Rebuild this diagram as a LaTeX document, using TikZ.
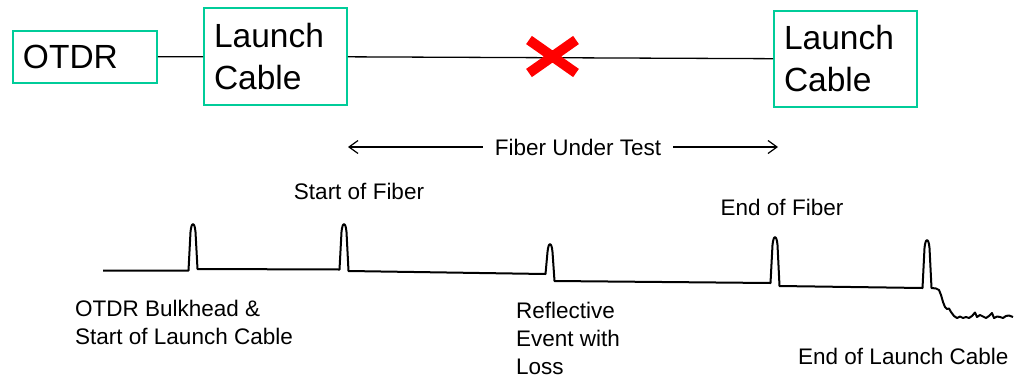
\documentclass[tikz,border=0pt]{standalone}
\usepackage{fontspec}
\setmainfont{Liberation Sans}
\usetikzlibrary{arrows.meta,shapes.misc}
\definecolor{boxgreen}{RGB}{0,204,153}
\def\spike(#1,#2,#3,#4){-- (#1-4.5,#2) -- (#1-2.5,#3+9) .. controls (#1-1.5,#3-1.5) and (#1+1.5,#3-1.5) .. (#1+2.5,#3+9) -- (#1+4.5,#4)}
\tikzset{
  box/.style={draw=boxgreen, line width=1.6pt, rectangle, inner xsep=10pt, inner ysep=0pt,
    align=left, font=\fontsize{33.5}{42}\selectfont},
  wire/.style={line width=1.3pt},
  span/.style={line width=1.2pt, -{Straight Barb[length=9pt,width=13pt]}},
  tracelabel/.style={font=\fontsize{22.5}{28}\selectfont, align=left},
  trace/.style={line width=2pt, line join=round}
}

\begin{document}
\begin{tikzpicture}[x=1pt, y=-1pt]
				\useasboundingbox (0,0) rectangle (1019,375);
				
				\node[box, minimum width=144pt, minimum height=52pt, text width=124pt] (otdr) at (85,57) {OTDR};
				\node[box, minimum width=143pt, minimum height=97pt, text width=123pt] (lcnear) at (275.5,56.5) {Launch\\Cable};
				\node[box, minimum width=143pt, minimum height=96pt, text width=123pt] (lcfar) at (845.5,59) {Launch\\Cable};
				
				\draw[wire] (otdr) -- (lcnear);
				\draw[wire] (lcnear) -- (lcfar);
				\node[cross out, draw=red, line width=10pt, minimum width=37pt, minimum height=23pt, inner sep=0pt] (fault) at (552.5,56.5) {};
				
				\node[tracelabel, inner xsep=12pt] (fut) at (578,147) {Fiber Under Test};
				\coordinate (futstart) at (348,147);
				\coordinate (futend) at (778,147);
				\draw[span] (fut.west) -- (futstart);
				\draw[span] (fut.east) -- (futend);
				
				\draw[trace] (103,270.5) \spike(193,270.5,223,269) \spike(344,269.5,223,271)
					\spike(550,274,243,281) \spike(775,283,236,286) \spike(927,288,239,288)
					-- (936,288.5) -- (939,290) -- (941,295) -- (943,302) -- (945,307) -- (947,309)
					-- (949,308.5) -- (951,312) -- (954,316) -- (957,318) -- (960,316.5) -- (963,318)
					-- (966,317) -- (969,318) -- (972,316) -- (975,312.5) -- (977,317) -- (980,315)
					-- (983,316.5) -- (986,318) -- (989,316) -- (992,313) -- (994,318) -- (997,316.5)
					-- (1000,317) -- (1003,318) -- (1006,316) -- (1009,315.5) -- (1013,317);
				
				\node[tracelabel, anchor=base] (startfiber) at (359,199) {Start of Fiber};
				\node[tracelabel, anchor=base] (endfiber) at (782,215) {End of Fiber};
				\node[tracelabel, anchor=north west, inner sep=0pt] (bulkhead) at (75,300) {OTDR Bulkhead \&\\Start of Launch Cable};
				\node[tracelabel, anchor=north west, inner sep=0pt] (reflective) at (516,302) {Reflective\\Event with\\Loss};
				\node[tracelabel, anchor=base west, inner sep=0pt] (endlaunch) at (798,364) {End of Launch Cable};
\end{tikzpicture}
\end{document}
